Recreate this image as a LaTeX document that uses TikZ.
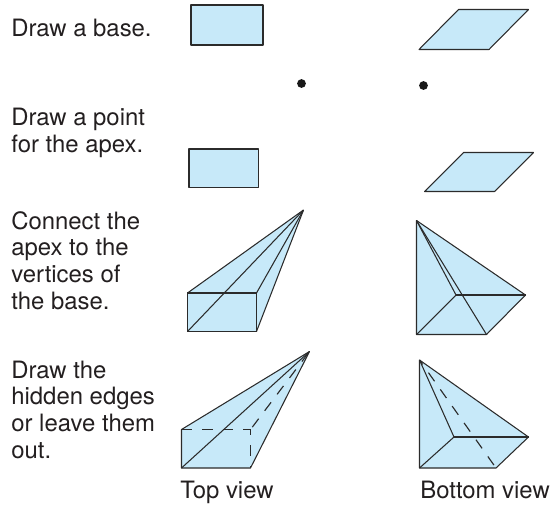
\documentclass[tikz,border=0pt]{standalone}
\usepackage{fontspec}
\setmainfont{TeX Gyre Heros}
\definecolor{basefill}{HTML}{C7E9F9}
\definecolor{edgeline}{HTML}{2B2B2B}
\definecolor{captext}{HTML}{231F20}
\tikzset{
  solid face/.style={fill=basefill,draw=edgeline,line width=0.6pt,line join=round},
  edge/.style={draw=edgeline,line width=0.6pt},
  hidden edge/.style={draw=edgeline,line width=0.65pt,dash pattern=on 6pt off 5.7pt},
  apexdot/.style={circle,fill=black!90,inner sep=0pt,minimum size=5pt},
  caption/.style={font=\fontsize{13.6}{15.14}\selectfont,text=captext,anchor=base west,inner sep=0pt,align=left}
}
\begin{document}
\begin{tikzpicture}[x=0.02cm,y=-0.02cm]
\useasboundingbox (0,0) rectangle (555,505);
% row 1
\draw[solid face] (191,5) rectangle (263,45);
\draw[solid face] (419,49.5)--(489,49.5)--(528.5,9.5)--(458.5,9.5)--cycle;
% row 2
\node[apexdot] (dotA) at (301.5,83.5) {};
\node[apexdot] (dotB) at (423.5,85.5) {};
\draw[solid face] (189,149) rectangle (258.5,187.5);
\draw[solid face] (424.5,191.5)--(494.5,191.5)--(533.5,152.5)--(463.5,152.5)--cycle;
% row 3, top view
\coordinate (a3) at (303.5,210);
\coordinate (tl3) at (187.5,293);
\coordinate (tr3) at (256.5,293);
\coordinate (bl3) at (187.5,331.5);
\coordinate (br3) at (256.5,331.5);
\fill[basefill] (tl3)--(a3)--(br3)--(bl3)--cycle;
\foreach \p in {tl3,tr3,bl3,br3} {\draw[edge] (a3)--(\p);}
\draw[edge] (tl3) rectangle (br3);
% row 3, bottom view
\coordinate (a4) at (416.5,220.5);
\coordinate (bl4) at (416.5,334.5);
\coordinate (br4) at (486.5,334.5);
\coordinate (r4) at (525.5,295);
\coordinate (in4) at (456,295);
\draw[solid face] (a4)--(bl4)--(br4)--(r4)--cycle;
\foreach \p/\q in {a4/in4,a4/br4,in4/r4,in4/bl4} {\draw[edge] (\p)--(\q);}
% row 4, top view
\coordinate (a5) at (309.5,351.5);
\coordinate (tl5) at (181.5,429.5);
\coordinate (tr5) at (250.5,429.5);
\coordinate (bl5) at (181.5,468);
\coordinate (br5) at (250.5,468);
\draw[solid face] (tl5)--(a5)--(br5)--(bl5)--cycle;
\draw[edge] (bl5)--(a5);
\draw[hidden edge] (tl5)--(tr5);
\draw[hidden edge,dash phase=2.6pt] (tr5)--(br5);
\draw[hidden edge,dash phase=10pt] (tr5)--(a5);
% row 4, bottom view
\coordinate (a6) at (419.5,360);
\coordinate (bl6) at (419.5,468);
\coordinate (br6) at (496,468);
\coordinate (r6) at (528.5,437);
\coordinate (in6) at (454,437);
\draw[solid face] (a6)--(bl6)--(br6)--(r6)--cycle;
\foreach \p/\q in {a6/in6,in6/r6,in6/bl6} {\draw[edge] (\p)--(\q);}
\draw[hidden edge,dash phase=2.9pt] (a6)--(br6);
% text, placed by the last baseline
\node[caption] (stepA) at (11,36) {Draw a base.};
\node[caption] (stepB) at (11,152) {Draw a point\\for the apex.};
\node[caption] (stepC) at (11,309) {Connect the\\apex to the\\vertices of\\the base.};
\node[caption] (stepD) at (11,458) {Draw the\\hidden edges\\or leave them\\out.};
\node[caption] (topview) at (180,498) {Top view};
\node[caption] (botview) at (420,498) {Bottom view};
\end{tikzpicture}
\end{document}
